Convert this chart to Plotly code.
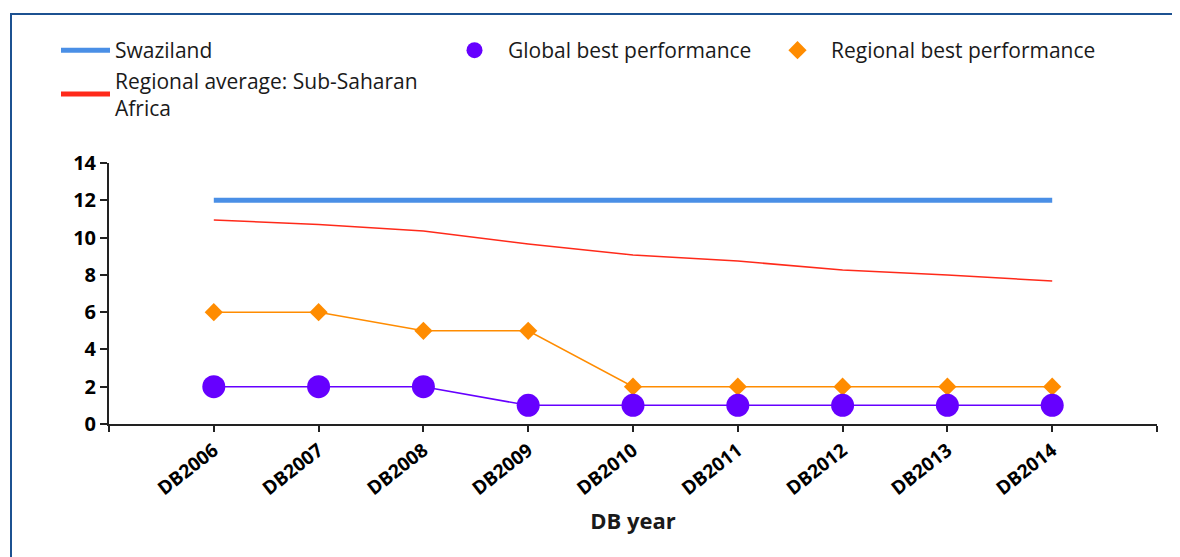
import plotly.graph_objects as go

years = ["DB2006", "DB2007", "DB2008", "DB2009", "DB2010", "DB2011", "DB2012", "DB2013", "DB2014"]
swaziland = [12, 12, 12, 12, 12, 12, 12, 12, 12]
regional_avg = [10.94, 10.7, 10.35, 9.66, 9.07, 8.74, 8.26, 7.99, 7.67]
global_best = [2, 2, 2, 1, 1, 1, 1, 1, 1]
regional_best = [6, 6, 5, 5, 2, 2, 2, 2, 2]
y_ticks = [0, 2, 4, 6, 8, 10, 12, 14]

idx = list(range(len(years)))
tick_pos = [-1] + idx + [len(years)]
tick_txt = [""] + years + [""]

BLUE = "#4a8fe6"
RED = "#ff2a1a"
PURPLE = "#6600ff"
ORANGE = "#ff8c00"

fig = go.Figure()
fig.add_trace(go.Scatter(x=idx, y=swaziland, mode="lines", name="Swaziland",
                         line=dict(color=BLUE, width=5), legend="legend", legendrank=1))
fig.add_trace(go.Scatter(x=idx, y=regional_avg, mode="lines",
                         name="Regional average: Sub-Saharan<br>Africa",
                         line=dict(color=RED, width=1.5), legend="legend", legendrank=2))
fig.add_trace(go.Scatter(x=idx, y=regional_best, mode="lines", showlegend=False,
                         line=dict(color=ORANGE, width=1.5)))
fig.add_trace(go.Scatter(x=idx, y=regional_best, mode="markers", name="Regional best performance",
                         marker=dict(color=ORANGE, symbol="diamond", size=14), legend="legend3"))
fig.add_trace(go.Scatter(x=idx, y=global_best, mode="lines", showlegend=False,
                         line=dict(color=PURPLE, width=1.5)))
fig.add_trace(go.Scatter(x=idx, y=global_best, mode="markers", name="Global best performance",
                         marker=dict(color=PURPLE, symbol="circle", size=23), legend="legend2"))

# page has an 8px body margin; plot-area edges are given in screen pixels
OFF = 8
L, R, T, B = 109, 1157, 163, 424
W, H = 1180 - OFF, 557 - OFF

def px(xp):
    return (xp - L) / (R - L)

def py(yp):
    return (B - yp) / (B - T)

FAM = "Open Sans, Noto Sans, DejaVu Sans"
legfont = dict(family=FAM, size=21, color="#1a1a1a")

fig.update_layout(
    width=W, height=H,
    margin=dict(l=L - OFF, r=1180 - R, t=T - OFF, b=557 - B),
    paper_bgcolor="white", plot_bgcolor="white",
    font=dict(family=FAM, color="black"),
    legend=dict(x=px(56), y=py(30), xanchor="left", yanchor="top", bgcolor="rgba(0,0,0,0)",
                font=legfont, itemwidth=49, tracegroupgap=0, itemsizing="constant"),
    legend2=dict(x=px(441), y=py(30), xanchor="left", yanchor="top", bgcolor="rgba(0,0,0,0)",
                 font=legfont, itemwidth=57, itemsizing="trace"),
    legend3=dict(x=px(764), y=py(30), xanchor="left", yanchor="top", bgcolor="rgba(0,0,0,0)",
                 font=legfont, itemwidth=57, itemsizing="trace"),
    xaxis=dict(range=[-1, len(years)], tickmode="array", tickvals=tick_pos, ticktext=tick_txt,
               tickangle=-38, ticks="outside", ticklen=6, tickwidth=2, tickcolor="#222",
               showline=True, linecolor="#222", linewidth=2, showgrid=False, zeroline=False,
               tickfont=dict(size=19, weight="bold", color="black"),
               title=dict(text="DB year", font=dict(size=22, weight="bold", color="#1a1a1a"), standoff=14)),
    yaxis=dict(range=[0, 14], tickmode="array", tickvals=y_ticks,
               ticks="outside", ticklen=7, tickwidth=2, tickcolor="#222",
               showline=True, linecolor="#222", linewidth=2, showgrid=False, zeroline=False,
               tickfont=dict(size=20, weight="bold", color="black")),
    shapes=[dict(type="rect", xref="paper", yref="paper",
                 x0=px(11), x1=px(1200), y0=py(580), y1=py(14),
                 line=dict(color="#1c5191", width=2), layer="below")],
)

fig.write_html("out.html")
